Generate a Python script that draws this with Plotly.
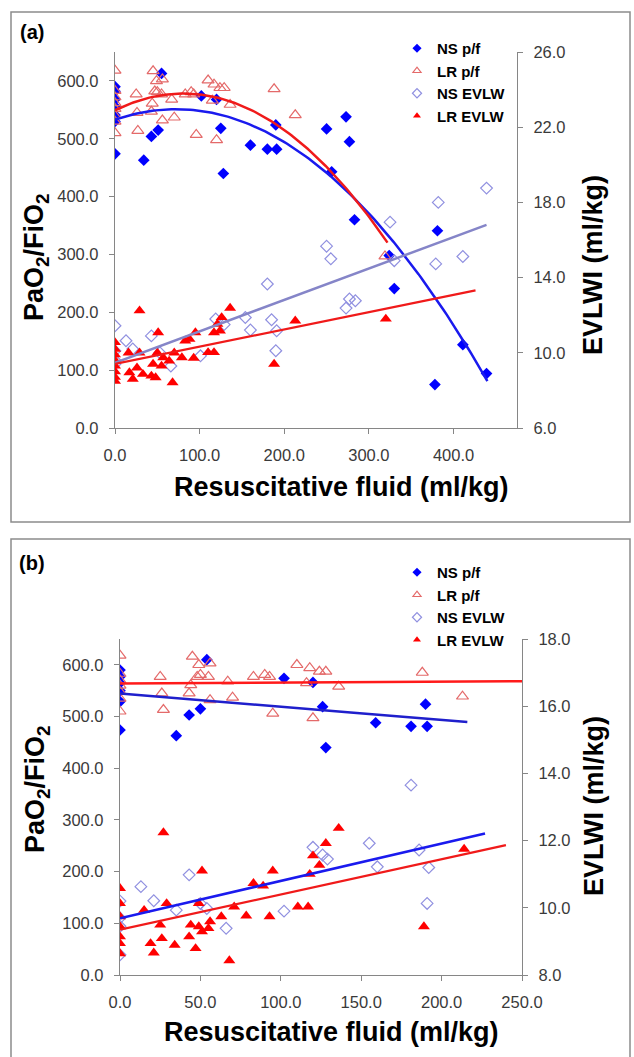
import numpy as np
import plotly.graph_objects as go

# ---------------- Panel (a) data ----------------
a_ns_pf_x = [0, 0, 0, 0, 0, 0, 0, 34, 43, 51, 55, 102, 120, 125, 128, 160, 180, 191, 190,
             250, 256, 273, 277, 283, 324, 330, 378, 381, 411, 439]
a_ns_pf_y = [590, 582, 568, 556, 541, 530, 474, 463, 504, 515, 613, 574, 568, 518, 440, 489, 482, 482, 524,
             517, 443, 538, 495, 360, 298, 241, 75, 341, 144, 94]

a_lr_pf_x = [0, 0, 0, 0, 0, 0, 0, 0, 25, 26, 27, 43, 44, 45, 47, 49, 50, 56, 55, 56, 67, 70, 83, 90, 93, 96,
             110, 117, 115, 120, 124, 129, 136, 188, 213, 319]
a_lr_pf_y = [618, 583, 572, 562, 552, 540, 530, 510, 577, 545, 514, 547, 561, 617, 582, 600, 581, 603, 577, 532,
             568, 537, 577, 581, 577, 507, 601, 594, 566, 498, 588, 588, 559, 586, 541, 297]

a_ns_ev_x = [0, 0, 0, 0, 13, 21, 43, 53, 66, 101, 119, 129, 154, 160, 180, 185, 190, 191,
             250, 255, 273, 277, 284, 325, 330, 379, 382, 411, 439]
a_ns_ev_y = [11.44, 10.1, 9.6, 9.4, 10.64, 10.2, 10.9, 10.0, 9.3, 9.84, 11.8, 11.5, 11.88, 11.21, 13.66, 11.76,
             10.11, 11.17, 15.67, 15.0, 12.38, 12.86, 12.77, 16.95, 14.9, 14.73, 18.0, 15.12, 18.76]

a_lr_ev_x = [0, 0, 0, 0, 0, 0, 0, 0, 16, 17, 21, 26, 29, 29, 33, 43, 45, 48, 50, 51, 55, 57, 64, 68, 70, 79,
             83, 88, 93, 95, 110, 117, 117, 121, 124, 126, 136, 188, 213, 320]
a_lr_ev_y = [10.55, 10.2, 9.9, 9.6, 9.3, 9.0, 8.7, 8.5, 10.0, 8.95, 8.6, 9.2, 10.0, 12.24, 8.86, 8.77, 9.4, 8.68,
             10.0, 11.08, 9.3, 9.75, 9.57, 8.42, 10.0, 9.75, 10.64, 10.73, 9.72, 11.08, 10.02, 10.02, 11.08,
             11.53, 11.17, 11.88, 12.38, 9.4, 11.7, 11.8]

# ---------------- Panel (b) data ----------------
b_ns_pf_x = [0, 0, 0, 0, 0, 0, 35, 43, 50, 54, 102, 120, 126, 128, 159, 181, 191, 190]
b_ns_pf_y = [590, 577, 565, 550, 529, 474, 463, 503, 515, 610, 574, 566, 519, 440, 488, 481, 481, 524]

b_lr_pf_x = [0, 0, 0, 0, 0, 0, 0, 25, 26, 27, 43, 44, 45, 48, 49, 50, 56, 55, 56, 67, 70, 83, 90, 93, 95,
             110, 118, 116, 120, 124, 128, 136, 188, 213]
b_lr_pf_y = [618, 583, 570, 560, 548, 535, 510, 577, 545, 513, 545, 561, 616, 577, 600, 581, 603, 577, 532,
             568, 537, 577, 581, 577, 506, 600, 594, 565, 497, 587, 587, 558, 585, 539]

b_ns_ev_x = [0, 0, 0, 0, 13, 21, 35, 43, 50, 54, 66, 102, 120, 126, 129, 155, 160, 181, 186, 191, 192]
b_ns_ev_y = [10.2, 9.7, 9.45, 8.6, 10.63, 10.21, 9.93, 10.98, 10.13, 9.98, 9.39, 9.9, 11.8, 11.57, 11.45,
             11.92, 11.22, 13.65, 11.72, 10.13, 11.2]

b_lr_ev_x = [0, 0, 0, 0, 0, 0, 0, 15, 19, 21, 25, 26, 27, 29, 34, 43, 44, 47, 49, 49, 51, 51, 55, 56, 63, 68,
             71, 78.5, 83, 89, 93, 95, 110.6, 117, 118, 120, 124, 128, 136, 189, 214]
b_lr_ev_y = [10.58, 10.13, 9.74, 9.44, 9.14, 8.94, 8.64, 9.93, 8.94, 8.66, 9.49, 9.09, 12.24, 10.13, 8.89,
             9.14, 9.49, 8.79, 10.13, 9.44, 11.1, 9.29, 9.39, 9.59, 9.74, 8.43, 10.03, 9.76, 10.73, 10.65,
             9.74, 11.1, 10.03, 10.03, 11.0, 11.55, 11.27, 11.92, 12.37, 9.44, 11.75]

# trendline order and x-extent
a_trend_deg = {"ns_pf": 2, "lr_pf": 2, "ns_ev": 1, "lr_ev": 1}
a_trend_end = {"ns_pf": 440, "lr_pf": 322, "ns_ev": 439, "lr_ev": 426}
b_trend_deg = {"ns_pf": 1, "lr_pf": 1, "ns_ev": 1, "lr_ev": 1}
b_trend_end = {"ns_pf": 216, "lr_pf": 250, "ns_ev": 227, "lr_ev": 240}

legend_names = ["NS p/f", "LR p/f", "NS EVLW", "LR EVLW"]

W, H = 634, 1057
FONT = "Liberation Sans, Arial, sans-serif"
C_NS_PF = "#0000FF"
C_LR_PF = "#E46A6A"
C_NS_EV = "#9090E0"
C_LR_EV = "#FF0000"
AX_COL = "#868686"
TICK_FONT = dict(family=FONT, size=16.5, color="#3a3a3a")


def px(x):
    return x / W


def py(y):
    return 1 - y / H


def trend(xs, ys, deg, xend):
    c = np.polyfit(np.array(xs, float), np.array(ys, float), deg)
    gx = np.linspace(0, xend, 120)
    return gx, np.polyval(c, gx)


fig = go.Figure()

markers = {
    "ns_pf": dict(symbol="diamond", color=C_NS_PF, size=9),
    "lr_pf": dict(symbol="triangle-up-open", color=C_LR_PF, size=10.5, line=dict(width=1.2)),
    "ns_ev": dict(symbol="diamond-open", color=C_NS_EV, size=9, line=dict(width=1.2)),
    "lr_ev": dict(symbol="triangle-up", color=C_LR_EV, size=10.5),
}


def add_panel(xa, ya_l, ya_r, legend, data, degs, ends, tcolors, twidths):
    # legend-only entries (small symbols like the reference legend)
    for key, name in zip(["ns_pf", "lr_pf", "ns_ev", "lr_ev"], legend_names):
        m = dict(markers[key])
        m["size"] = 7
        fig.add_trace(go.Scatter(x=[None], y=[None], mode="markers", marker=m, name=name,
                                 xaxis=xa, yaxis=ya_l, legend=legend, showlegend=True,
                                 hoverinfo="skip"))
    for key in ["ns_pf", "lr_pf", "ns_ev", "lr_ev"]:
        xs, ys = data[key]
        yax = ya_l if key.endswith("pf") else ya_r
        fig.add_trace(go.Scatter(x=xs, y=ys, mode="markers", marker=markers[key],
                                 xaxis=xa, yaxis=yax, showlegend=False))
    for key in ["ns_ev", "lr_ev", "ns_pf", "lr_pf"]:
        xs, ys = data[key]
        yax = ya_l if key.endswith("pf") else ya_r
        gx, gy = trend(xs, ys, degs[key], ends[key])
        fig.add_trace(go.Scatter(x=gx, y=gy, mode="lines",
                                 line=dict(color=tcolors[key], width=twidths[key]),
                                 xaxis=xa, yaxis=yax, showlegend=False, hoverinfo="skip"))


add_panel("x", "y", "y2", "legend",
          {"ns_pf": (a_ns_pf_x, a_ns_pf_y), "lr_pf": (a_lr_pf_x, a_lr_pf_y),
           "ns_ev": (a_ns_ev_x, a_ns_ev_y), "lr_ev": (a_lr_ev_x, a_lr_ev_y)},
          a_trend_deg, a_trend_end,
          {"ns_pf": "#1A1AEE", "lr_pf": "#F01A1A", "ns_ev": "#8585C8", "lr_ev": "#F01A1A"},
          {"ns_pf": 2.5, "lr_pf": 2.5, "ns_ev": 2.5, "lr_ev": 2.2})

add_panel("x2", "y3", "y4", "legend2",
          {"ns_pf": (b_ns_pf_x, b_ns_pf_y), "lr_pf": (b_lr_pf_x, b_lr_pf_y),
           "ns_ev": (b_ns_ev_x, b_ns_ev_y), "lr_ev": (b_lr_ev_x, b_lr_ev_y)},
          b_trend_deg, b_trend_end,
          {"ns_pf": "#1F1FCC", "lr_pf": "#FF1A1A", "ns_ev": "#1A1AEE", "lr_ev": "#F01A1A"},
          {"ns_pf": 2.5, "lr_pf": 2.5, "ns_ev": 2.5, "lr_ev": 2.2})

axis_common = dict(showline=True, linecolor=AX_COL, linewidth=1.3, ticks="outside", ticklen=5,
                   tickcolor=AX_COL, tickwidth=1.2, showgrid=False, zeroline=False,
                   tickfont=TICK_FONT, tickformat=".1f", fixedrange=True, automargin=False,
                   ticklabelstandoff=7)

fig.update_layout(
    template="none",
    width=W, height=H, autosize=False,
    margin=dict(l=0, r=0, t=0, b=0, pad=0, autoexpand=False),
    paper_bgcolor="white", plot_bgcolor="white",
    font=dict(family=FONT),
    xaxis=dict(domain=[px(115), px(517)], anchor="y", range=[0, 475],
               tickvals=[0, 100, 200, 300, 400], **axis_common),
    yaxis=dict(domain=[py(428), py(52)], anchor="x", range=[0, 650],
               tickvals=[0, 100, 200, 300, 400, 500, 600], **axis_common),
    yaxis2=dict(overlaying="y", side="right", anchor="x", range=[6, 26],
                tickvals=[6, 10, 14, 18, 22, 26], **axis_common),
    xaxis2=dict(domain=[px(120), px(522)], anchor="y3", range=[0, 250],
                tickvals=[0, 50, 100, 150, 200, 250], **axis_common),
    yaxis3=dict(domain=[py(975), py(639)], anchor="x2", range=[0, 650],
                tickvals=[0, 100, 200, 300, 400, 500, 600], **axis_common),
    yaxis4=dict(overlaying="y3", side="right", anchor="x2", range=[8, 18],
                tickvals=[8, 10, 12, 14, 16, 18], **axis_common),
    legend=dict(x=px(397), y=py(32), xanchor="left", yanchor="top",
                font=dict(family=FONT, size=15, color="black", weight="bold"),
                bgcolor="rgba(0,0,0,0)", borderwidth=0, itemwidth=30, tracegroupgap=0),
    legend2=dict(x=px(397), y=py(556), xanchor="left", yanchor="top",
                 font=dict(family=FONT, size=15, color="black", weight="bold"),
                 bgcolor="rgba(0,0,0,0)", borderwidth=0, itemwidth=30, tracegroupgap=0),
    shapes=[
        dict(type="rect", xref="paper", yref="paper", x0=px(11), x1=px(630), y0=py(522), y1=py(12),
             line=dict(color="#8c8c8c", width=1.5), fillcolor="rgba(0,0,0,0)", layer="below"),
        dict(type="rect", xref="paper", yref="paper", x0=px(11), x1=px(630), y0=py(1070), y1=py(539),
             line=dict(color="#8c8c8c", width=1.5), fillcolor="rgba(0,0,0,0)", layer="below"),
    ],
)

title_font = dict(family=FONT, size=27, color="black", weight="bold")
ann = [
    dict(text="<b>(a)</b>", x=px(32), y=py(32)),
    dict(text="<b>(b)</b>", x=px(32), y=py(563)),
]
for a in ann:
    a.update(xref="paper", yref="paper", showarrow=False, xanchor="center", yanchor="middle",
             font=dict(family=FONT, size=20, color="black"))
titles = [
    dict(text="<b>Resuscitative fluid (ml/kg)</b>", x=px(341), y=py(487), textangle=0),
    dict(text="<b>Resuscitative fluid (ml/kg)</b>", x=px(331), y=py(1032), textangle=0),
    dict(text="<b>PaO<sub>2</sub>/FiO<sub>2</sub></b>", x=px(36), y=py(257), textangle=-90),
    dict(text="<b>PaO<sub>2</sub>/FiO<sub>2</sub></b>", x=px(37), y=py(789), textangle=-90),
    dict(text="<b>EVLWI (ml/kg)</b>", x=px(593), y=py(265), textangle=-90),
    dict(text="<b>EVLWI (ml/kg)</b>", x=px(594), y=py(806), textangle=-90),
]
for t in titles:
    t.update(xref="paper", yref="paper", showarrow=False, xanchor="center", yanchor="middle",
             font=title_font)
fig.update_layout(annotations=ann + titles)

fig.write_html("out.html", config={"displayModeBar": False},
               post_script="document.body.style.margin='0';document.body.style.padding='0';")
